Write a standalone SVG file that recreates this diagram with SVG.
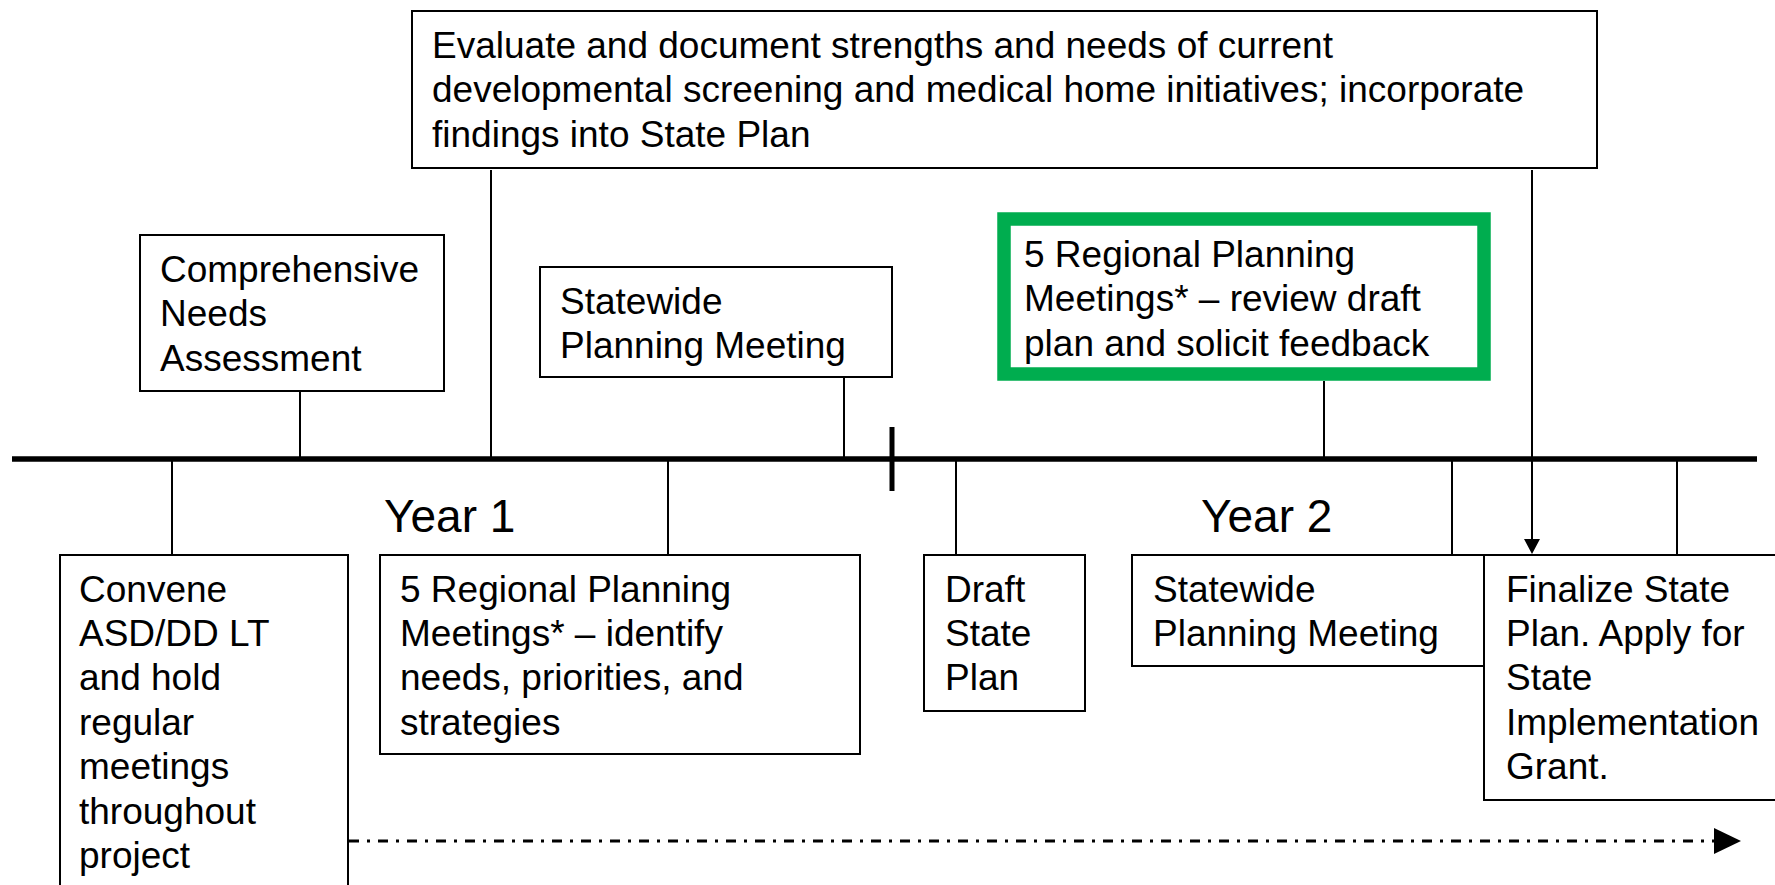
<svg xmlns="http://www.w3.org/2000/svg" width="1775" height="885" viewBox="0 0 1775 885">
<style>
.box{fill:#fff;stroke:#000;stroke-width:2}
.green{fill:#fff;stroke:#00ad4f;stroke-width:13.5}
.t{font-family:"Liberation Sans",Arial,sans-serif;font-size:37px;fill:#000}
.yr{font-family:"Liberation Sans",Arial,sans-serif;font-size:46px;fill:#000}
.c{stroke:#000;stroke-width:2;fill:none}
</style>
<rect width="1775" height="885" fill="#fff"/>
<g id="connectors">
<line x1="12" y1="459" x2="1757" y2="459" stroke="#000" stroke-width="5.5"/>
<line x1="892" y1="427" x2="892" y2="491" stroke="#000" stroke-width="5"/>
<line class="c" x1="300" y1="392" x2="300" y2="459"/>
<line class="c" x1="491" y1="170" x2="491" y2="459"/>
<line class="c" x1="844" y1="378" x2="844" y2="459"/>
<line class="c" x1="1324" y1="381" x2="1324" y2="459"/>
<line class="c" x1="172" y1="459" x2="172" y2="555"/>
<line class="c" x1="668" y1="459" x2="668" y2="555"/>
<line class="c" x1="956" y1="459" x2="956" y2="555"/>
<line class="c" x1="1452" y1="459" x2="1452" y2="555"/>
<line class="c" x1="1677" y1="459" x2="1677" y2="555"/>
<line class="c" x1="1532" y1="170" x2="1532" y2="539"/>
<path d="M1524,539 L1540,539 L1532,554 Z" fill="#000"/>
<line x1="349" y1="841" x2="1716" y2="841" stroke="#000" stroke-width="3" stroke-dasharray="10 8 3 8"/>
<path d="M1714,828 L1741,841 L1714,854 Z" fill="#000"/>
</g>
<g id="eval">
<rect class="box" x="412" y="11" width="1185" height="157"/>
<text class="t" x="432" y="58">Evaluate and document strengths and needs of current</text>
<text class="t" x="432" y="102">developmental screening and medical home initiatives; incorporate</text>
<text class="t" x="432" y="147">findings into State Plan</text>
</g>
<g id="comprehensive">
<rect class="box" x="140" y="235" width="304" height="156"/>
<text class="t" x="160" y="282">Comprehensive</text>
<text class="t" x="160" y="326">Needs</text>
<text class="t" x="160" y="371">Assessment</text>
</g>
<g id="statewide1">
<rect class="box" x="540" y="267" width="352" height="110"/>
<text class="t" x="560" y="314">Statewide</text>
<text class="t" x="560" y="358">Planning Meeting</text>
</g>
<g id="regional2">
<rect class="green" x="1004" y="219" width="480" height="155"/>
<text class="t" x="1024" y="267">5 Regional Planning</text>
<text class="t" x="1024" y="311">Meetings* – review draft</text>
<text class="t" x="1024" y="356">plan and solicit feedback</text>
</g>
<g id="year1"><text class="yr" x="384" y="532">Year 1</text></g>
<g id="year2"><text class="yr" x="1201" y="532">Year 2</text></g>
<g id="convene">
<rect class="box" x="60" y="555" width="288" height="345"/>
<text class="t" x="79" y="602">Convene</text>
<text class="t" x="79" y="646">ASD/DD LT</text>
<text class="t" x="79" y="690">and hold</text>
<text class="t" x="79" y="735">regular</text>
<text class="t" x="79" y="779">meetings</text>
<text class="t" x="79" y="824">throughout</text>
<text class="t" x="79" y="868">project</text>
</g>
<g id="regional1">
<rect class="box" x="380" y="555" width="480" height="199"/>
<text class="t" x="400" y="602">5 Regional Planning</text>
<text class="t" x="400" y="646">Meetings* – identify</text>
<text class="t" x="400" y="690">needs, priorities, and</text>
<text class="t" x="400" y="735">strategies</text>
</g>
<g id="draft">
<rect class="box" x="924" y="555" width="161" height="156"/>
<text class="t" x="945" y="602">Draft</text>
<text class="t" x="945" y="646">State</text>
<text class="t" x="945" y="690">Plan</text>
</g>
<g id="statewide2">
<rect class="box" x="1132" y="555" width="352" height="111"/>
<text class="t" x="1153" y="602">Statewide</text>
<text class="t" x="1153" y="646">Planning Meeting</text>
</g>
<g id="finalize">
<rect class="box" x="1484" y="555" width="320" height="245"/>
<text class="t" x="1506" y="602">Finalize State</text>
<text class="t" x="1506" y="646">Plan. Apply for</text>
<text class="t" x="1506" y="690">State</text>
<text class="t" x="1506" y="735">Implementation</text>
<text class="t" x="1506" y="779">Grant.</text>
</g>
</svg>
